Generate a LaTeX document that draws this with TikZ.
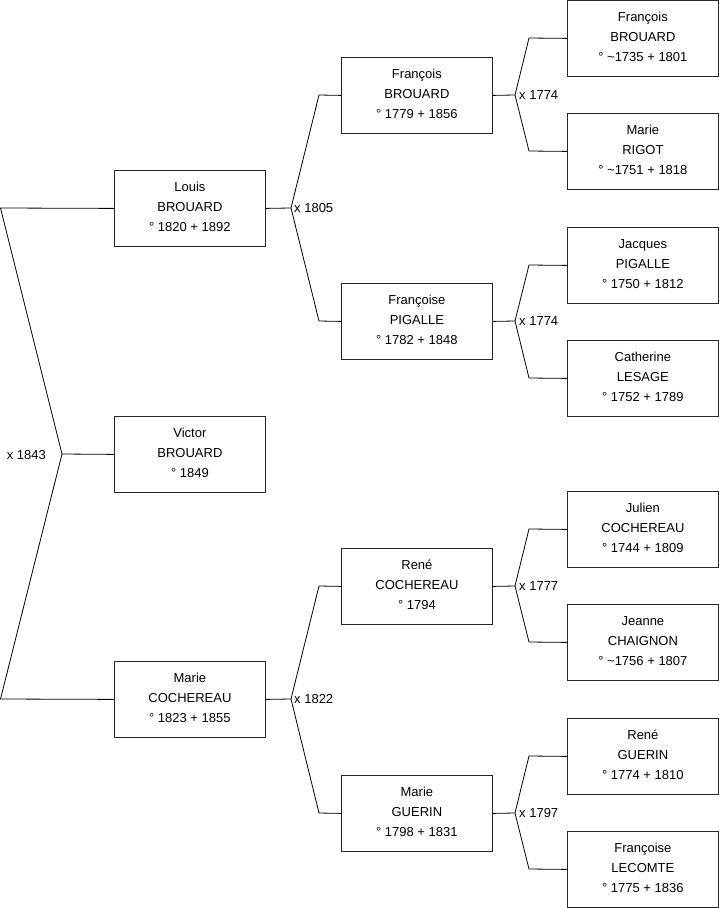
\documentclass[tikz,border=0pt]{standalone}
\usepackage{fontspec}
\setmainfont{Liberation Sans}
\begin{document}
\begin{tikzpicture}[x=1pt,y=-1pt,
  person/.style={draw=black!85,line width=0.8pt,minimum width=151pt,minimum height=76pt,inner sep=0pt,align=center,text height=49.3pt,text depth=3.9pt,font=\fontsize{13}{20}\selectfont},
  link/.style={draw=black,line width=0.8pt},
  mar/.style={font=\fontsize{13}{15}\selectfont,inner sep=0pt}]
\useasboundingbox (0,0) rectangle (719,908);
% column 1
\node[person,anchor=north west] (louis) at (114,170) {Louis\\BROUARD\\° 1820 + 1892};
\node[person,anchor=north west] (victor) at (114,416) {Victor\\BROUARD\\° 1849};
\node[person,anchor=north west] (marie) at (114,661) {Marie\\COCHEREAU\\° 1823 + 1855};
% column 2
\node[person,anchor=north west] (francoisb) at (341,57) {François\\BROUARD\\° 1779 + 1856};
\node[person,anchor=north west] (francoisep) at (341,283) {Françoise\\PIGALLE\\° 1782 + 1848};
\node[person,anchor=north west] (renec) at (341,548) {René\\COCHEREAU\\° 1794};
\node[person,anchor=north west] (marieg) at (341,775) {Marie\\GUERIN\\° 1798 + 1831};
% column 3
\node[person,anchor=north west] (francoisa) at (567,0) {François\\BROUARD\\° \textasciitilde1735 + 1801};
\node[person,anchor=north west] (marier) at (567,113) {Marie\\RIGOT\\° \textasciitilde1751 + 1818};
\node[person,anchor=north west] (jacques) at (567,227) {Jacques\\PIGALLE\\° 1750 + 1812};
\node[person,anchor=north west] (catherine) at (567,340) {Catherine\\LESAGE\\° 1752 + 1789};
\node[person,anchor=north west] (julien) at (567,491) {Julien\\COCHEREAU\\° 1744 + 1809};
\node[person,anchor=north west] (jeanne) at (567,604) {Jeanne\\CHAIGNON\\° \textasciitilde1756 + 1807};
\node[person,anchor=north west] (reneg) at (567,718) {René\\GUERIN\\° 1774 + 1810};
\node[person,anchor=north west] (francoisel) at (567,831) {Françoise\\LECOMTE\\° 1775 + 1836};
% fork points
\coordinate (f0) at (62,454);
\coordinate (c0a) at (0.5,208);
\coordinate (c0b) at (0.5,699);
\coordinate (f1) at (291,208);
\coordinate (c1a) at (319,95);
\coordinate (c1b) at (319,321);
\coordinate (f2) at (291,699);
\coordinate (c2a) at (319,586);
\coordinate (c2b) at (319,813);
\coordinate (f3) at (515,95);
\coordinate (c3a) at (529,38);
\coordinate (c3b) at (529,151);
\coordinate (f4) at (515,321);
\coordinate (c4a) at (529,265);
\coordinate (c4b) at (529,378);
\coordinate (f5) at (515,586);
\coordinate (c5a) at (529,529);
\coordinate (c5b) at (529,642);
\coordinate (f6) at (515,813);
\coordinate (c6a) at (529,756);
\coordinate (c6b) at (529,869);
% connectors
\draw[link] (victor.west) -- (f0);
\draw[link] (louis.west) -- (c0a) -- (f0) -- (c0b) -- (marie.west);
\draw[link] (louis.east) -- (f1);
\draw[link] (francoisb.west) -- (c1a) -- (f1) -- (c1b) -- (francoisep.west);
\draw[link] (marie.east) -- (f2);
\draw[link] (renec.west) -- (c2a) -- (f2) -- (c2b) -- (marieg.west);
\draw[link] (francoisb.east) -- (f3);
\draw[link] (francoisa.west) -- (c3a) -- (f3) -- (c3b) -- (marier.west);
\draw[link] (francoisep.east) -- (f4);
\draw[link] (jacques.west) -- (c4a) -- (f4) -- (c4b) -- (catherine.west);
\draw[link] (renec.east) -- (f5);
\draw[link] (julien.west) -- (c5a) -- (f5) -- (c5b) -- (jeanne.west);
\draw[link] (marieg.east) -- (f6);
\draw[link] (reneg.west) -- (c6a) -- (f6) -- (c6b) -- (francoisel.west);
% marriage labels
\node[mar,anchor=east] (m0) at ([xshift=-16pt,yshift=-1pt]f0) {x 1843};
\node[mar,anchor=west] (m1) at ([xshift=3pt]f1) {x 1805};
\node[mar,anchor=west] (m2) at ([xshift=3pt]f2) {x 1822};
\node[mar,anchor=west] (m3) at ([xshift=4pt]f3) {x 1774};
\node[mar,anchor=west] (m4) at ([xshift=4pt]f4) {x 1774};
\node[mar,anchor=west] (m5) at ([xshift=4pt]f5) {x 1777};
\node[mar,anchor=west] (m6) at ([xshift=4pt]f6) {x 1797};
\end{tikzpicture}
\end{document}
